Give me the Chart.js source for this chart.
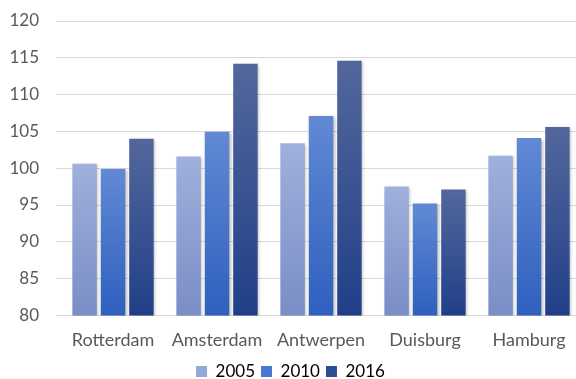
<!DOCTYPE html>
<html>
<head>
<meta charset="utf-8">
<script src="https://cdn.jsdelivr.net/npm/chart.js@4/dist/chart.umd.min.js"></script>
<style>
  html, body { margin: 0; padding: 0; background: #fff; overflow: hidden; }
  #wrap { position: relative; width: 590px; height: 379px; }
</style>
</head>
<body>
<div id="wrap"><canvas id="c" width="590" height="379"></canvas></div>
<script>
const categories = ['Rotterdam', 'Amsterdam', 'Antwerpen', 'Duisburg', 'Hamburg'];
const years = ['2005', '2010', '2016'];
const values2005 = [100.6, 101.6, 103.4, 97.5, 101.7];
const values2010 = [99.9, 104.95, 107.1, 95.2, 104.1];
const values2016 = [104.0, 114.2, 114.6, 97.1, 105.6];
const yTicks = [80, 85, 90, 95, 100, 105, 110, 115, 120];

// top / bottom colours of each series' vertical gradient
const gradStops = [
  ['#a0b0dc', '#7a8ec6'],
  ['#6189d4', '#2f60bf'],
  ['#53679c', '#213f88']
];
const legendColors = ['#93a7d8', '#4a77cf', '#2d4e95'];

function barFill(idx) {
  return function (ctx) {
    const chart = ctx.chart;
    const y = chart.scales && chart.scales.y;
    if (!chart.chartArea || !y || ctx.type !== 'data') return legendColors[idx];
    const top = y.getPixelForValue(ctx.raw);
    const bottom = y.getPixelForValue(y.min);
    if (!isFinite(top) || !isFinite(bottom) || bottom - top < 1) return legendColors[idx];
    const g = chart.ctx.createLinearGradient(0, top, 0, bottom);
    g.addColorStop(0, gradStops[idx][0]);
    g.addColorStop(1, gradStops[idx][1]);
    return g;
  };
}

// soft drop shadow under the bars
const barShadow = {
  id: 'barShadow',
  beforeDatasetsDraw(chart) {
    const c = chart.ctx;
    c.save();
    c.shadowColor = 'rgba(0,0,0,0.28)';
    c.shadowBlur = 3;
    c.shadowOffsetX = 1.5;
    c.shadowOffsetY = 1.5;
  },
  afterDatasetsDraw(chart) {
    chart.ctx.restore();
  }
};

const seriesValues = [values2005, values2010, values2016];

new Chart(document.getElementById('c'), {
  type: 'bar',
  data: {
    labels: categories,
    datasets: years.map((yr, i) => ({
      label: yr,
      data: seriesValues[i],
      backgroundColor: barFill(i),
      borderWidth: 0,
      categoryPercentage: 0.82,
      barPercentage: 0.86
    }))
  },
  plugins: [barShadow],
  options: {
    responsive: false,
    animation: false,
    devicePixelRatio: 1,
    layout: { padding: { top: 21, right: 9, left: 0, bottom: -11 } },
    scales: {
      x: {
        grid: { display: false },
        border: { display: false },
        ticks: {
          color: '#595959',
          font: { family: 'Lato', size: 18 },
          padding: 6,
          maxRotation: 0
        }
      },
      y: {
        min: 80,
        max: 120,
        afterBuildTicks(scale) { scale.ticks = yTicks.map(v => ({ value: v })); },
        afterFit(scale) {
          scale.width = 61;
          scale.paddingTop = 0;
          scale.paddingBottom = 0;
        },
        grid: { color: '#d9d9d9', lineWidth: 1, tickLength: 5, drawTicks: true },
        border: { display: false },
        ticks: {
          color: '#595959',
          font: { family: 'Lato', size: 17 },
          padding: 17
        }
      }
    },
    plugins: {
      legend: {
        position: 'bottom',
        labels: {
          color: '#595959',
          font: { family: 'Lato', size: 17 },
          boxWidth: 11,
          boxHeight: 11,
          padding: 6,
          generateLabels(chart) {
            return chart.data.datasets.map((d, i) => ({
              text: d.label,
              fillStyle: legendColors[i],
              strokeStyle: legendColors[i],
              lineWidth: 0,
              datasetIndex: i,
              hidden: false
            }));
          }
        }
      },
      tooltip: { enabled: false }
    }
  }
});
</script>
</body>
</html>
